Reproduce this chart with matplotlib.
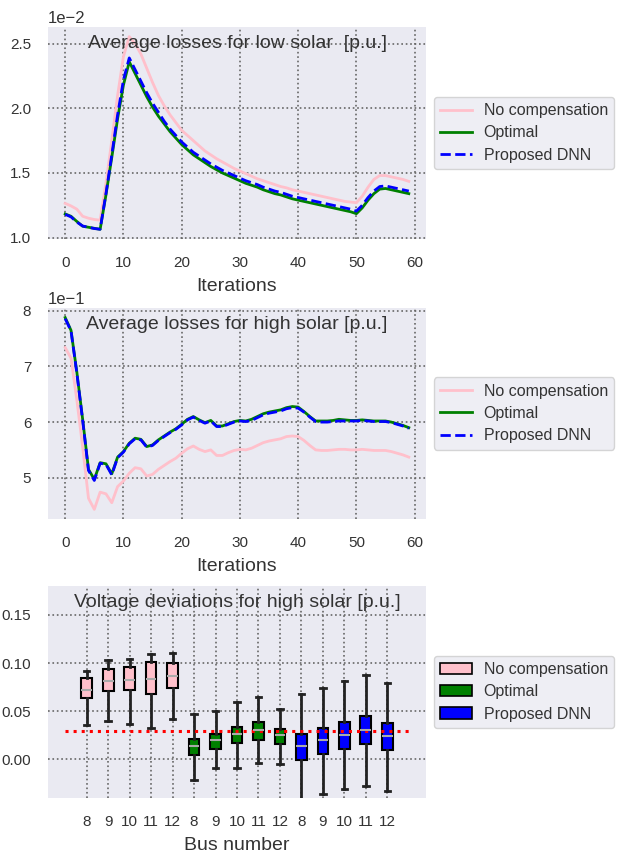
import matplotlib
matplotlib.use("Agg")
import matplotlib.pyplot as plt
from matplotlib.patches import Patch
from matplotlib.ticker import ScalarFormatter

plt.rcParams['font.family'] = ['Liberation Sans', 'DejaVu Sans']
plt.rcParams['text.color'] = '#333333'
plt.rcParams['axes.labelcolor'] = '#333333'
plt.rcParams['xtick.color'] = '#333333'
plt.rcParams['ytick.color'] = '#333333'

iterations = list(range(60))

# low solar losses (p.u.)
low_nocomp = [0.01265, 0.01245, 0.0122, 0.01165, 0.0115, 0.0114, 0.01135, 0.0142, 0.0175, 0.0210,
              0.0240, 0.02555, 0.0250, 0.0242, 0.0231, 0.0220, 0.0210, 0.0202, 0.0195, 0.0189,
              0.0183, 0.0179, 0.0175, 0.0171, 0.0167, 0.0164, 0.0161, 0.01585, 0.0156, 0.01535,
              0.01515, 0.01495, 0.01475, 0.01455, 0.0144, 0.01425, 0.0141, 0.01395, 0.01385, 0.0137,
              0.0136, 0.0135, 0.0134, 0.0133, 0.0132, 0.0131, 0.0130, 0.0129, 0.0128, 0.01275,
              0.0127, 0.0132, 0.0139, 0.0145, 0.0148, 0.0148, 0.0147, 0.0146, 0.0145, 0.01435]
low_optimal = [0.01183, 0.01165, 0.01125, 0.01088, 0.0108, 0.01072, 0.01064, 0.0133, 0.0162, 0.0192,
               0.0218, 0.0236, 0.0227, 0.0218, 0.0209, 0.0201, 0.0194, 0.0188, 0.0182, 0.0177,
               0.0172, 0.0168, 0.0164, 0.0161, 0.0158, 0.0155, 0.01525, 0.0150, 0.0148, 0.0146,
               0.0144, 0.0142, 0.01405, 0.0139, 0.0137, 0.01355, 0.0134, 0.0133, 0.01315, 0.0130,
               0.0129, 0.0128, 0.0127, 0.0126, 0.0125, 0.0124, 0.0123, 0.0122, 0.0121, 0.0120,
               0.01185, 0.0123, 0.0129, 0.0134, 0.01375, 0.0138, 0.0137, 0.0136, 0.0135, 0.0134]
low_dnn = [0.0118, 0.0116, 0.0112, 0.0109, 0.0108, 0.0107, 0.01065, 0.0134, 0.0164, 0.0195,
           0.0222, 0.0239, 0.0230, 0.0221, 0.0212, 0.0204, 0.0197, 0.0190, 0.0184, 0.0179,
           0.0174, 0.0170, 0.0166, 0.0163, 0.0160, 0.0157, 0.01545, 0.0152, 0.0150, 0.0148,
           0.0146, 0.0144, 0.01425, 0.0141, 0.0139, 0.01375, 0.0136, 0.0135, 0.01335, 0.0132,
           0.0131, 0.0130, 0.0129, 0.0128, 0.0127, 0.0126, 0.0125, 0.0124, 0.0123, 0.0122,
           0.01205, 0.0125, 0.0131, 0.0136, 0.01395, 0.0140, 0.0139, 0.0138, 0.0137, 0.0136]

# high solar losses (p.u.)
high_nocomp = [0.734, 0.715, 0.640, 0.555, 0.463, 0.443, 0.474, 0.471, 0.455, 0.484,
               0.494, 0.508, 0.518, 0.516, 0.503, 0.506, 0.515, 0.522, 0.529, 0.535,
               0.544, 0.552, 0.557, 0.551, 0.547, 0.550, 0.540, 0.540, 0.545, 0.549,
               0.551, 0.550, 0.553, 0.558, 0.563, 0.566, 0.568, 0.570, 0.574, 0.575,
               0.574, 0.567, 0.558, 0.550, 0.549, 0.549, 0.550, 0.551, 0.551, 0.550,
               0.550, 0.551, 0.550, 0.549, 0.549, 0.549, 0.547, 0.544, 0.541, 0.537]
high_optimal = [0.788, 0.765, 0.690, 0.605, 0.515, 0.497, 0.527, 0.525, 0.507, 0.537,
                0.547, 0.562, 0.571, 0.569, 0.556, 0.559, 0.568, 0.575, 0.582, 0.588,
                0.596, 0.605, 0.610, 0.604, 0.599, 0.603, 0.593, 0.593, 0.597, 0.601,
                0.603, 0.602, 0.605, 0.610, 0.615, 0.618, 0.620, 0.622, 0.626, 0.628,
                0.627, 0.619, 0.610, 0.602, 0.602, 0.602, 0.603, 0.605, 0.604, 0.603,
                0.603, 0.604, 0.603, 0.602, 0.602, 0.602, 0.600, 0.597, 0.594, 0.590]
high_dnn = [0.786, 0.764, 0.688, 0.603, 0.513, 0.495, 0.526, 0.524, 0.505, 0.536,
            0.546, 0.561, 0.570, 0.568, 0.555, 0.558, 0.567, 0.574, 0.581, 0.587,
            0.595, 0.604, 0.609, 0.603, 0.598, 0.602, 0.592, 0.592, 0.596, 0.600,
            0.602, 0.601, 0.603, 0.608, 0.613, 0.616, 0.618, 0.620, 0.624, 0.626,
            0.625, 0.618, 0.609, 0.601, 0.600, 0.600, 0.601, 0.602, 0.602, 0.602,
            0.602, 0.603, 0.602, 0.601, 0.601, 0.601, 0.599, 0.596, 0.593, 0.589]

# voltage deviation box stats per bus (whislo, q1, med, q3, whishi)
buses = [8, 9, 10, 11, 12]
v_nocomp = [(0.036, 0.0635, 0.072, 0.084, 0.092),
            (0.040, 0.0714, 0.081, 0.094, 0.103),
            (0.037, 0.072, 0.082, 0.096, 0.104),
            (0.0326, 0.068, 0.083, 0.101, 0.109),
            (0.042, 0.0745, 0.087, 0.100, 0.110)]
v_optimal = [(-0.0216, 0.0045, 0.0137, 0.0216, 0.0467),
             (-0.0089, 0.011, 0.020, 0.0268, 0.0504),
             (-0.009, 0.0172, 0.0268, 0.034, 0.0594),
             (-0.0038, 0.0202, 0.0302, 0.0388, 0.0649),
             (-0.0051, 0.0158, 0.025, 0.0316, 0.0528)]
v_dnn = [(-0.045, -0.0003, 0.0137, 0.0268, 0.0683),
         (-0.036, 0.0058, 0.020, 0.0326, 0.0745),
         (-0.031, 0.011, 0.0257, 0.0384, 0.0813),
         (-0.028, 0.0161, 0.0309, 0.0453, 0.088),
         (-0.033, 0.0093, 0.0247, 0.0377, 0.0796)]
v_limit = 0.03

labels = ['No compensation', 'Optimal', 'Proposed DNN']
colors = ['pink', 'green', 'blue']

fig = plt.figure(figsize=(6.21, 8.55), dpi=100)
ax1 = fig.add_axes([0.0773, 0.7205, 0.6087, 0.248])
ax2 = fig.add_axes([0.0773, 0.393, 0.6087, 0.2468])
ax3 = fig.add_axes([0.0773, 0.0667, 0.6087, 0.248])

leg_kw = dict(loc='center left', bbox_to_anchor=(1.0, 0.5), fontsize=11.5,
              facecolor='#eaeaf2', edgecolor='#cccccc', framealpha=0.8,
              labelspacing=0.45, handlelength=2.0, handletextpad=0.7,
              borderaxespad=0.5)


def style(ax):
    ax.set_facecolor('#eaeaf2')
    for s in ax.spines.values():
        s.set_visible(False)
    ax.grid(True, linestyle=':', color='#666666', linewidth=1.2)
    ax.set_axisbelow(True)
    ax.tick_params(axis='both', length=0, labelsize=11)
    ax.tick_params(axis='x', pad=12)
    ax.tick_params(axis='y', pad=12)


for ax, nc, op, dn, title in [
        (ax1, low_nocomp, low_optimal, low_dnn, 'Average losses for low solar  [p.u.]'),
        (ax2, high_nocomp, high_optimal, high_dnn, 'Average losses for high solar [p.u.]')]:
    style(ax)
    ax.plot(iterations, nc, color=colors[0], lw=2, label=labels[0])
    ax.plot(iterations, op, color=colors[1], lw=2, label=labels[1])
    ax.plot(iterations, dn, color=colors[2], lw=2, ls='--', label=labels[2])
    ax.set_xticks([0, 10, 20, 30, 40, 50, 60])
    fmt = ScalarFormatter(useMathText=False)
    fmt.set_powerlimits((0, 0))
    ax.yaxis.set_major_formatter(fmt)
    ax.yaxis.get_offset_text().set_fontsize(12)
    ax.set_title(title, y=0.9, pad=0, fontsize=14, color='#333333')
    ax.set_xlabel('Iterations', fontsize=14, labelpad=6)
    ax.legend(**leg_kw)

ax1.set_yticks([0.010, 0.015, 0.020, 0.025])
ax2.set_yticks([0.5, 0.6, 0.7, 0.8])

# boxplots
style(ax3)
stats = []
box_colors = []
for group, c in zip([v_nocomp, v_optimal, v_dnn], colors):
    for bus, (lo, q1, med, q3, hi) in zip(buses, group):
        stats.append(dict(whislo=lo, q1=q1, med=med, q3=q3, whishi=hi, fliers=[], label=str(bus)))
        box_colors.append(c)
positions = list(range(1, len(stats) + 1))
bp = ax3.bxp(stats, positions=positions, widths=0.5, patch_artist=True, showfliers=False,
             boxprops=dict(edgecolor='black', linewidth=1.5),
             whiskerprops=dict(color='#222222', linewidth=2),
             capprops=dict(color='#222222', linewidth=2),
             medianprops=dict(color='#aaaaaa', linewidth=1.5))
for patch, c in zip(bp['boxes'], box_colors):
    patch.set_facecolor(c)
ax3.plot([0, 16], [v_limit, v_limit], color='red', ls=':', lw=2.2)
ax3.set_xlim(-0.8, 16.8)
ax3.set_ylim(-0.04, 0.18)
ax3.set_xticks(positions)
ax3.set_xticklabels([str(b) for b in buses] * 3)
ax3.set_yticks([0.0, 0.05, 0.10, 0.15])
ax3.set_yticklabels(['0.00', '0.05', '0.10', '0.15'])
ax3.set_title('Voltage deviations for high solar [p.u.]', y=0.9, pad=0, fontsize=14, color='#333333')
ax3.set_xlabel('Bus number', fontsize=14, labelpad=6)
handles = [Patch(facecolor=c, edgecolor='black', linewidth=1.2) for c in colors]
ax3.legend(handles, labels, **leg_kw)

fig.savefig('out.png', dpi=100)
